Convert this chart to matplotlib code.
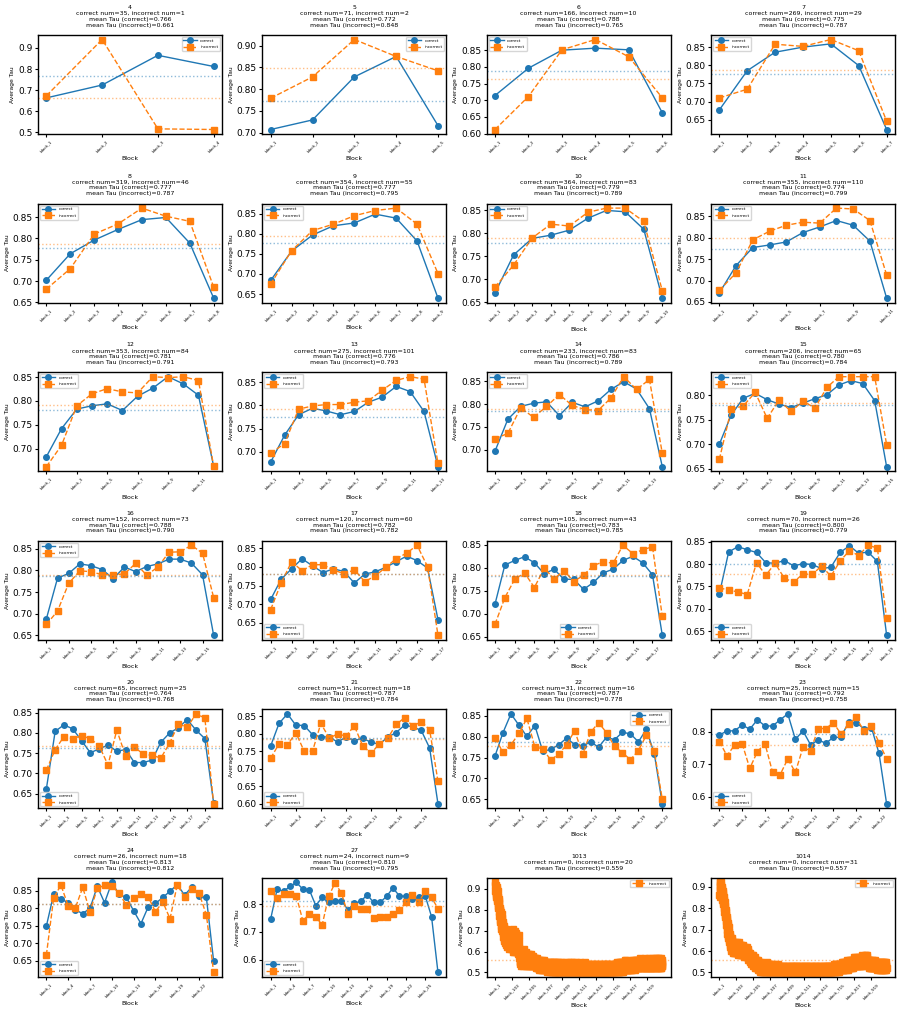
import math
import numpy as np
import matplotlib
matplotlib.use("Agg")
import matplotlib.pyplot as plt
from matplotlib.ticker import MaxNLocator

# one panel per number of blocks
panel_ids = [4, 5, 6, 7, 8, 9, 10, 11, 12, 13, 14, 15, 16, 17, 18, 19, 20, 21, 22, 23, 24, 27, 1013, 1014]
n_correct = [35, 71, 166, 269, 319, 354, 364, 355, 353, 275, 233, 206, 152, 120, 105, 70, 65, 51, 31, 25, 26, 24, 0, 0]
n_incorrect = [1, 2, 10, 29, 46, 55, 83, 110, 84, 101, 83, 65, 73, 60, 43, 26, 25, 18, 16, 15, 18, 9, 20, 31]
mean_correct = [0.766, 0.772, 0.788, 0.775, 0.777, 0.777, 0.779, 0.774, 0.781, 0.776, 0.786, 0.780,
                0.788, 0.782, 0.783, 0.800, 0.764, 0.787, 0.787, 0.792, 0.813, 0.810, None, None]
mean_incorrect = [0.661, 0.848, 0.765, 0.787, 0.787, 0.795, 0.789, 0.799, 0.791, 0.793, 0.789, 0.784,
                  0.790, 0.782, 0.785, 0.779, 0.768, 0.784, 0.778, 0.758, 0.812, 0.795, 0.559, 0.557]
legend_loc = ["upper right", "upper right"] + ["upper left"] * 11 + \
             ["lower left", "lower center", "lower left", "lower left", "lower left",
              "upper right", "lower left", "lower left", "lower left", "upper right", "upper right"]

correct_4 = [0.663, 0.724, 0.865, 0.812]
incorrect_4 = [0.673, 0.940, 0.516, 0.513]
correct_5 = [0.707, 0.729, 0.828, 0.875, 0.716]
incorrect_5 = [0.779, 0.828, 0.914, 0.875, 0.842]
correct_6 = [0.714, 0.796, 0.850, 0.856, 0.851, 0.662]
incorrect_6 = [0.612, 0.711, 0.851, 0.882, 0.830, 0.707]
correct_7 = [0.677, 0.785, 0.836, 0.850, 0.859, 0.799, 0.623]
incorrect_7 = [0.710, 0.734, 0.858, 0.852, 0.871, 0.840, 0.646]
correct_8 = [0.702, 0.764, 0.796, 0.821, 0.844, 0.849, 0.789, 0.660]
incorrect_8 = [0.681, 0.729, 0.810, 0.834, 0.871, 0.852, 0.840, 0.686]
correct_9 = [0.684, 0.757, 0.797, 0.820, 0.827, 0.849, 0.839, 0.782, 0.640]
incorrect_9 = [0.675, 0.758, 0.808, 0.824, 0.845, 0.858, 0.864, 0.824, 0.701]
correct_10 = [0.670, 0.753, 0.789, 0.796, 0.807, 0.833, 0.850, 0.847, 0.809, 0.659]
incorrect_10 = [0.683, 0.731, 0.790, 0.820, 0.816, 0.846, 0.855, 0.855, 0.826, 0.675]
correct_11 = [0.671, 0.735, 0.777, 0.783, 0.790, 0.812, 0.825, 0.840, 0.829, 0.792, 0.659]
incorrect_11 = [0.677, 0.718, 0.795, 0.815, 0.829, 0.836, 0.834, 0.869, 0.867, 0.840, 0.713]
correct_12 = [0.683, 0.742, 0.783, 0.790, 0.794, 0.780, 0.810, 0.827, 0.851, 0.836, 0.812, 0.663]
incorrect_12 = [0.662, 0.707, 0.790, 0.815, 0.826, 0.819, 0.817, 0.851, 0.849, 0.851, 0.843, 0.663]
correct_13 = [0.678, 0.736, 0.780, 0.794, 0.788, 0.780, 0.787, 0.807, 0.818, 0.841, 0.830, 0.787, 0.668]
incorrect_13 = [0.697, 0.718, 0.792, 0.799, 0.802, 0.802, 0.807, 0.810, 0.833, 0.854, 0.862, 0.857, 0.675]
correct_14 = [0.697, 0.767, 0.795, 0.802, 0.805, 0.775, 0.804, 0.794, 0.807, 0.832, 0.849, 0.833, 0.790, 0.663]
incorrect_14 = [0.724, 0.736, 0.792, 0.771, 0.795, 0.821, 0.797, 0.788, 0.786, 0.813, 0.860, 0.832, 0.854, 0.692]
correct_15 = [0.700, 0.760, 0.794, 0.804, 0.791, 0.782, 0.775, 0.784, 0.793, 0.801, 0.821, 0.830, 0.824,
              0.789, 0.654]
incorrect_15 = [0.669, 0.772, 0.778, 0.806, 0.753, 0.790, 0.767, 0.788, 0.774, 0.816, 0.838, 0.838, 0.838,
                0.838, 0.699]
correct_16 = [0.688, 0.782, 0.793, 0.815, 0.811, 0.802, 0.781, 0.808, 0.797, 0.809, 0.815, 0.826, 0.826,
              0.817, 0.790, 0.650]
incorrect_16 = [0.675, 0.706, 0.770, 0.799, 0.797, 0.790, 0.790, 0.792, 0.816, 0.789, 0.808, 0.842, 0.843,
                0.858, 0.840, 0.737]
correct_17 = [0.713, 0.767, 0.795, 0.822, 0.803, 0.785, 0.795, 0.788, 0.757, 0.781, 0.787, 0.799, 0.814,
              0.829, 0.817, 0.797, 0.659]
incorrect_17 = [0.686, 0.757, 0.814, 0.790, 0.806, 0.806, 0.792, 0.782, 0.792, 0.761, 0.776, 0.799, 0.822,
                0.837, 0.858, 0.801, 0.617]
correct_18 = [0.721, 0.806, 0.816, 0.824, 0.811, 0.787, 0.797, 0.775, 0.775, 0.753, 0.768, 0.789, 0.797,
              0.816, 0.825, 0.811, 0.785, 0.653]
incorrect_18 = [0.677, 0.735, 0.775, 0.789, 0.757, 0.799, 0.776, 0.794, 0.770, 0.784, 0.805, 0.813, 0.810,
                0.849, 0.831, 0.839, 0.846, 0.694]
correct_19 = [0.733, 0.827, 0.839, 0.832, 0.826, 0.803, 0.802, 0.808, 0.796, 0.801, 0.799, 0.790, 0.793,
              0.826, 0.841, 0.824, 0.827, 0.806, 0.641]
incorrect_19 = [0.747, 0.742, 0.738, 0.732, 0.803, 0.775, 0.802, 0.768, 0.760, 0.778, 0.777, 0.796, 0.773,
                0.807, 0.830, 0.819, 0.842, 0.836, 0.679]
correct_20 = [0.662, 0.804, 0.820, 0.810, 0.781, 0.751, 0.761, 0.770, 0.755, 0.759, 0.727, 0.727, 0.733,
              0.777, 0.800, 0.813, 0.833, 0.807, 0.786, 0.627]
incorrect_20 = [0.708, 0.759, 0.791, 0.786, 0.793, 0.786, 0.768, 0.721, 0.807, 0.743, 0.766, 0.747, 0.745,
                0.738, 0.775, 0.822, 0.814, 0.847, 0.837, 0.625]
correct_21 = [0.765, 0.829, 0.856, 0.824, 0.823, 0.797, 0.791, 0.790, 0.776, 0.790, 0.780, 0.787, 0.775,
              0.770, 0.790, 0.803, 0.824, 0.819, 0.809, 0.759, 0.600]
incorrect_21 = [0.730, 0.771, 0.767, 0.803, 0.750, 0.750, 0.829, 0.787, 0.799, 0.793, 0.822, 0.765, 0.744,
                0.771, 0.787, 0.826, 0.845, 0.821, 0.834, 0.811, 0.664]
correct_22 = [0.754, 0.810, 0.855, 0.828, 0.801, 0.827, 0.765, 0.770, 0.781, 0.797, 0.781, 0.778, 0.788,
              0.775, 0.799, 0.793, 0.811, 0.807, 0.788, 0.818, 0.759, 0.639]
incorrect_22 = [0.797, 0.763, 0.781, 0.808, 0.844, 0.776, 0.771, 0.744, 0.759, 0.781, 0.815, 0.758, 0.811,
                0.834, 0.810, 0.777, 0.762, 0.745, 0.767, 0.804, 0.765, 0.650]
correct_23 = [0.789, 0.802, 0.802, 0.820, 0.807, 0.836, 0.817, 0.817, 0.836, 0.854, 0.776, 0.802, 0.759,
              0.774, 0.764, 0.782, 0.782, 0.829, 0.827, 0.809, 0.812, 0.733, 0.578]
incorrect_23 = [0.769, 0.726, 0.758, 0.763, 0.687, 0.738, 0.763, 0.675, 0.668, 0.716, 0.675, 0.751, 0.741,
                0.809, 0.809, 0.827, 0.792, 0.822, 0.843, 0.802, 0.817, 0.766, 0.716]
correct_24 = [0.749, 0.840, 0.827, 0.816, 0.795, 0.785, 0.800, 0.863, 0.816, 0.874, 0.840, 0.831, 0.793,
              0.756, 0.804, 0.814, 0.831, 0.849, 0.868, 0.838, 0.861, 0.835, 0.831, 0.648]
incorrect_24 = [0.666, 0.829, 0.867, 0.807, 0.802, 0.860, 0.790, 0.857, 0.866, 0.865, 0.843, 0.809, 0.829,
                0.841, 0.833, 0.790, 0.819, 0.770, 0.868, 0.831, 0.856, 0.843, 0.781, 0.616]
correct_27 = [0.747, 0.854, 0.846, 0.864, 0.878, 0.854, 0.852, 0.795, 0.824, 0.806, 0.813, 0.812, 0.780,
              0.804, 0.810, 0.834, 0.806, 0.806, 0.828, 0.858, 0.830, 0.828, 0.818, 0.825, 0.831, 0.755, 0.554]
incorrect_27 = [0.846, 0.822, 0.837, 0.836, 0.828, 0.740, 0.764, 0.755, 0.725, 0.828, 0.876, 0.840, 0.764,
                0.792, 0.782, 0.783, 0.749, 0.755, 0.755, 0.764, 0.778, 0.807, 0.834, 0.806, 0.848, 0.824, 0.784]

# long questions: incorrect only, values in hundredths
incorrect_1013 = [
    92, 89, 93, 90, 87, 92, 88, 91, 86, 90, 89, 84, 88, 91, 85, 87, 83, 89, 86, 82,
    86, 81, 85, 79, 84, 82, 77, 83, 80, 75, 81, 78, 74, 80, 76, 79, 72, 77, 75, 71,
    78, 73, 76, 70, 75, 72, 69, 74, 71, 67, 73, 70, 68, 72, 66, 71, 69, 65, 70, 67,
    71, 66, 69, 64, 70, 67, 63, 69, 65, 71, 66, 64, 68, 62, 67, 70, 65, 63, 69, 66,
    64, 68, 62, 67, 70, 63, 66, 61, 69, 65, 62, 68, 64, 70, 61, 66, 63, 69, 62, 67,
    65, 61, 68, 63, 70, 62, 66, 60, 67, 64, 71, 61, 65, 68, 60, 66, 63, 69, 62, 65,
    68, 61, 64, 70, 62, 66, 60, 67, 63, 69, 61, 65, 68, 60, 64, 67, 62, 66, 59, 64,
    66, 61, 63, 68, 60, 65, 62, 59, 57, 55, 60, 54, 58, 61, 55, 57, 53, 59, 56, 60,
    57, 54, 58, 56, 60, 55, 57, 53, 58, 56, 59, 54, 57, 55, 61, 56, 58, 54, 57, 55,
    56, 59, 54, 57, 55, 58, 53, 56, 60, 55, 57, 54, 58, 56, 53, 57, 55, 59, 54, 56,
    55, 58, 53, 57, 54, 56, 59, 53, 55, 57, 54, 58, 55, 53, 56, 54, 57, 55, 59, 54,
    56, 53, 55, 58, 54, 56, 53, 57, 55, 54, 58, 53, 56, 54, 57, 55, 53, 56, 54, 57,
    54, 56, 53, 55, 57, 54, 52, 56, 54, 53, 55, 57, 52, 54, 56, 53, 55, 52, 54, 56,
    53, 55, 52, 54, 56, 53, 51, 55, 53, 54, 52, 56, 53, 55, 52, 54, 51, 53, 55, 52,
    54, 52, 55, 53, 51, 54, 56, 52, 53, 55, 51, 54, 52, 53, 55, 52, 54, 51, 53, 56,
    52, 54, 51, 53, 55, 52, 53, 51, 54, 52, 55, 53, 51, 54, 52, 53, 50, 54, 52, 55,
    53, 51, 54, 52, 50, 53, 55, 52, 51, 54, 52, 53, 51, 55, 52, 50, 53, 52, 54, 51,
    52, 55, 50, 53, 51, 54, 50, 52, 55, 51, 53, 50, 54, 52, 51, 55, 50, 53, 52, 54,
    50, 53, 51, 55, 52, 50, 54, 51, 53, 50, 52, 55, 51, 53, 50, 54, 52, 51, 53, 50,
    54, 51, 52, 50, 55, 52, 50, 53, 51, 54, 50, 52, 53, 51, 55, 50, 52, 54, 51, 53,
    51, 50, 54, 52, 51, 53, 50, 55, 52, 51, 53, 50, 52, 54, 50, 51, 53, 52, 50, 54,
    52, 54, 50, 51, 53, 50, 52, 55, 51, 50, 54, 52, 51, 53, 50, 52, 54, 51, 50, 53,
    50, 52, 53, 51, 54, 50, 52, 51, 55, 50, 53, 51, 52, 50, 54, 51, 53, 50, 52, 55,
    53, 51, 50, 52, 54, 51, 50, 53, 52, 50, 55, 51, 53, 50, 52, 54, 50, 51, 53, 52,
    51, 53, 52, 50, 51, 54, 52, 50, 53, 51, 50, 52, 55, 51, 50, 53, 52, 54, 50, 51,
    50, 52, 54, 51, 53, 50, 51, 52, 50, 54, 52, 51, 50, 53, 51, 55, 50, 52, 51, 53,
    52, 50, 51, 53, 50, 52, 54, 51, 50, 52, 53, 50, 51, 54, 52, 50, 53, 51, 50, 52,
    53, 51, 50, 52, 55, 50, 51, 53, 52, 50, 51, 54, 50, 52, 51, 53, 50, 52, 54, 51,
    50, 52, 53, 50, 51, 54, 52, 50, 51, 53, 50, 52, 51, 50, 54, 52, 51, 53, 50, 52,
    51, 53, 50, 52, 51, 50, 53, 52, 54, 50, 51, 52, 50, 53, 51, 50, 52, 54, 51, 50,
    53, 50, 52, 51, 54, 50, 51, 53, 50, 52, 51, 50, 54, 52, 50, 51, 53, 50, 52, 51,
    50, 52, 51, 53, 50, 51, 54, 50, 52, 51, 53, 50, 51, 52, 50, 54, 51, 50, 53, 52,
    51, 50, 53, 52, 50, 51, 52, 54, 50, 51, 53, 50, 52, 51, 54, 50, 51, 52, 50, 53,
    52, 51, 50, 54, 51, 50, 52, 53, 50, 51, 52, 50, 54, 51, 50, 53, 52, 50, 51, 54,
    50, 53, 51, 52, 50, 54, 51, 50, 52, 53, 51, 50, 52, 51, 53, 50, 54, 51, 52, 50,
    52, 51, 53, 50, 52, 51, 54, 50, 51, 53, 52, 50, 51, 54, 52, 51, 50, 53, 51, 52,
    51, 53, 50, 52, 54, 51, 52, 50, 53, 51, 54, 52, 50, 51, 53, 52, 55, 51, 50, 53,
    53, 51, 54, 52, 50, 53, 51, 55, 52, 51, 54, 50, 52, 53, 51, 55, 52, 50, 53, 54,
    52, 54, 51, 53, 55, 52, 50, 54, 53, 51, 55, 52, 54, 51, 53, 50, 55, 52, 54, 51,
    54, 52, 55, 51, 53, 54, 52, 56, 51, 53, 55, 52, 54, 51, 56, 53, 52, 55, 51, 54,
    52, 54, 51, 53, 55, 52, 53, 51, 54, 52, 55, 53, 51, 54, 52, 53, 55, 52, 54, 51,
    53, 55, 52, 54, 51, 53, 56, 52, 54, 53, 51, 55, 53, 52, 54, 56, 52, 53, 55, 52,
    54, 52, 55, 53, 56, 52, 54, 53, 51, 55, 53, 54, 52, 56, 53, 55, 52, 54, 56, 53,
    55, 53, 52, 54, 56, 53, 55, 52, 54, 53, 56, 54, 52, 55, 53, 54, 57, 53, 55, 52,
    54, 56, 53, 55, 52, 54, 56, 53, 55, 54, 52, 56, 53, 55, 54, 52, 55, 53, 56, 54,
    53, 55, 52, 54, 56, 53, 55, 52, 54, 57, 53, 55, 52, 54, 53, 56, 52, 55, 53, 54,
    52, 55, 53, 56, 54, 52, 55, 53, 54, 56, 52, 54, 53, 55, 57, 53, 54, 52, 55, 53,
    54, 52, 56, 53, 55, 54, 52, 55, 53, 57, 54, 52, 55, 53, 56, 54, 52, 55, 53, 54,
    56, 53, 55, 52, 54, 57, 53, 55, 54, 52, 56, 53, 55, 54, 52, 55, 57, 53, 54, 52,
    55, 53, 56, 54, 52, 55, 53, 57, 54, 52, 56, 53, 55, 54, 53, 57, 52, 55, 54, 53,
    56, 54, 52, 55, 53, 57, 54, 52, 55, 53, 54, 56, 53,
]
incorrect_1014 = [
    86, 91, 92, 88, 90, 85, 92, 89, 91, 87, 90, 88, 92, 86, 89, 84, 90, 87, 85, 88,
    87, 84, 88, 82, 86, 83, 80, 85, 81, 84, 78, 82, 79, 83, 77, 80, 76, 81, 75, 78,
    79, 74, 77, 72, 76, 70, 74, 71, 75, 68, 72, 69, 73, 67, 70, 66, 71, 68, 65, 69,
    67, 64, 68, 63, 66, 65, 62, 67, 61, 65, 63, 66, 60, 64, 62, 65, 61, 63, 66, 60,
    62, 60, 63, 61, 64, 59, 62, 60, 63, 61, 59, 62, 64, 60, 61, 63, 59, 62, 60, 63,
    61, 63, 59, 62, 60, 64, 61, 59, 62, 60, 63, 61, 58, 62, 60, 63, 59, 61, 64, 60,
    62, 59, 61, 63, 60, 58, 62, 61, 59, 63, 60, 62, 58, 61, 63, 59, 60, 62, 58, 61,
    60, 62, 58, 61, 59, 63, 60, 58, 61, 59, 62, 60, 57, 61, 59, 62, 58, 60, 59, 61,
    59, 61, 57, 60, 58, 62, 59, 57, 60, 58, 61, 59, 56, 60, 58, 57, 61, 59, 56, 58,
    57, 59, 56, 58, 55, 57, 59, 56, 58, 55, 57, 56, 54, 58, 56, 55, 57, 54, 56, 58,
    55, 57, 54, 56, 58, 55, 53, 56, 54, 57, 55, 53, 56, 54, 57, 55, 52, 56, 54, 55,
    53, 56, 54, 52, 55, 53, 56, 54, 52, 55, 53, 54, 51, 55, 53, 52, 54, 56, 52, 53,
    55, 52, 54, 51, 53, 55, 52, 50, 54, 52, 53, 51, 55, 52, 50, 53, 54, 51, 52, 54,
    52, 50, 53, 51, 54, 52, 50, 53, 51, 52, 54, 50, 52, 53, 51, 50, 53, 52, 54, 51,
    53, 51, 50, 52, 54, 51, 53, 50, 52, 51, 53, 55, 51, 52, 50, 53, 51, 52, 54, 50,
    52, 51, 53, 50, 52, 54, 51, 50, 53, 52, 51, 53, 50, 52, 51, 54, 52, 50, 51, 53,
    51, 53, 50, 52, 51, 53, 52, 50, 51, 54, 52, 51, 50, 53, 51, 52, 50, 53, 52, 51,
    50, 52, 53, 51, 52, 50, 51, 53, 52, 50, 52, 51, 53, 50, 52, 51, 54, 52, 50, 51,
    52, 51, 50, 53, 51, 52, 50, 52, 51, 53, 50, 51, 52, 50, 53, 51, 52, 50, 51, 52,
    51, 53, 50, 52, 51, 50, 52, 51, 53, 50, 51, 52, 50, 51, 53, 52, 50, 51, 52, 50,
    52, 51, 50, 52, 51, 53, 50, 51, 52, 50, 51, 53, 51, 50, 52, 51, 50, 52, 53, 51,
    50, 52, 51, 50, 53, 51, 52, 50, 51, 52, 50, 51, 53, 52, 50, 51, 52, 50, 51, 53,
    51, 50, 52, 51, 53, 50, 51, 52, 50, 51, 53, 51, 50, 52, 51, 50, 52, 51, 53, 50,
    52, 51, 50, 52, 51, 50, 53, 51, 52, 50, 51, 52, 50, 53, 51, 50, 52, 51, 50, 52,
    51, 50, 52, 53, 50, 51, 52, 50, 51, 53, 51, 50, 52, 51, 50, 52, 53, 51, 50, 51,
    52, 50, 51, 53, 51, 50, 52, 51, 50, 52, 51, 53, 50, 51, 52, 50, 51, 53, 52, 50,
    51, 52, 50, 51, 53, 51, 50, 52, 51, 50, 52, 53, 51, 50, 51, 52, 50, 51, 53, 51,
    50, 52, 51, 50, 52, 51, 53, 50, 51, 52, 50, 51, 52, 50, 53, 51, 50, 52, 51, 50,
    52, 51, 50, 53, 51, 50, 52, 51, 50, 52, 51, 53, 50, 51, 52, 50, 51, 52, 50, 53,
    51, 50, 52, 51, 50, 52, 53, 51, 50, 51, 52, 50, 51, 53, 50, 52, 51, 50, 52, 51,
    50, 51, 53, 52, 50, 51, 52, 50, 51, 53, 51, 50, 52, 51, 50, 52, 51, 53, 50, 51,
    52, 50, 51, 52, 50, 53, 51, 50, 52, 51, 50, 52, 53, 51, 50, 51, 52, 50, 51, 52,
    50, 52, 51, 53, 50, 51, 52, 50, 53, 51, 52, 50, 51, 52, 53, 50, 51, 52, 50, 51,
    53, 51, 50, 52, 51, 53, 50, 52, 51, 50, 52, 51, 53, 50, 51, 52, 50, 53, 51, 52,
    50, 52, 51, 53, 52, 50, 51, 53, 52, 51, 50, 52, 54, 51, 52, 50, 53, 51, 52, 54,
    51, 53, 52, 50, 52, 54, 51, 53, 52, 50, 53, 51, 52, 54, 51, 53, 52, 50, 52, 51,
    53, 51, 52, 54, 51, 53, 50, 52, 54, 51, 53, 52, 51, 54, 52, 53, 51, 54, 52, 53,
    51, 54, 52, 53, 55, 52, 51, 54, 53, 52, 55, 51, 53, 54, 52, 55, 53, 51, 54, 52,
    54, 52, 55, 53, 51, 54, 52, 55, 53, 54, 52, 56, 53, 54, 52, 55, 53, 51, 54, 53,
    55, 53, 52, 54, 56, 53, 54, 52, 55, 53, 56, 54, 52, 55, 53, 54, 56, 52, 54, 53,
    55, 53, 56, 54, 52, 55, 54, 56, 53, 55, 52, 54, 56, 53, 55, 54, 57, 53, 55, 54,
    56, 54, 53, 55, 57, 54, 56, 53, 55, 54, 56, 53, 55, 57, 54, 56, 53, 55, 54, 56,
    54, 56, 53, 55, 57, 54, 55, 53, 56, 54, 57, 55, 53, 56, 54, 55, 57, 54, 56, 53,
    55, 57, 54, 56, 53, 55, 58, 54, 56, 55, 57, 54, 56, 53, 55, 57, 54, 56, 55, 57,
    54, 56, 58, 55, 57, 54, 56, 55, 58, 56, 54, 57, 55, 56, 58, 54, 57, 55, 56, 54,
    56, 54, 55, 53, 56, 54, 52, 55, 53, 56, 54, 52, 55, 53, 54, 56, 52, 55, 53, 54,
    52, 55, 53, 54, 56, 52, 54, 53, 55, 52, 54, 56, 53, 55, 52, 54, 53, 55, 52, 54,
    53, 55, 52, 54, 56, 53, 52, 55, 53, 54, 52, 55, 53, 51, 54, 52, 55, 53, 54, 52,
    54, 52, 55, 53, 51, 54, 52, 55, 53, 52, 54, 51, 53, 55, 52, 54, 53, 51, 54, 52,
    53, 55, 52, 54, 51, 53, 55, 52, 54, 53, 51, 54, 52, 55, 53, 52, 54, 51, 53, 55,
    52, 54, 53, 51, 55, 52, 54, 53, 52, 55, 53, 51, 54, 52,
]

correct_series = [correct_4, correct_5, correct_6, correct_7, correct_8, correct_9, correct_10,
                  correct_11, correct_12, correct_13, correct_14, correct_15, correct_16, correct_17,
                  correct_18, correct_19, correct_20, correct_21, correct_22, correct_23, correct_24,
                  correct_27, None, None]
incorrect_series = [incorrect_4, incorrect_5, incorrect_6, incorrect_7, incorrect_8, incorrect_9,
                    incorrect_10, incorrect_11, incorrect_12, incorrect_13, incorrect_14, incorrect_15,
                    incorrect_16, incorrect_17, incorrect_18, incorrect_19, incorrect_20, incorrect_21,
                    incorrect_22, incorrect_23, incorrect_24, incorrect_27,
                    list(np.array(incorrect_1013) / 100), list(np.array(incorrect_1014) / 100)]

plt.rcParams['axes.linewidth'] = 1.0

fig, axes = plt.subplots(6, 4, figsize=(9.01, 10.17), dpi=100)
fig.subplots_adjust(left=38 / 901, right=895 / 901, top=1 - 35 / 1017, bottom=1 - 977 / 1017,
                    wspace=0.219, hspace=0.703)

for ax, pid, nc, ni, mc, mi, cor, inc, loc in zip(axes.flat, panel_ids, n_correct, n_incorrect,
                                                   mean_correct, mean_incorrect, correct_series,
                                                   incorrect_series, legend_loc):
    n = len(inc)
    x = np.arange(n)
    if cor is not None:
        ax.plot(x, cor, 'o-', color='C0', label='correct', markersize=4, linewidth=1)
    ax.plot(x, inc, 's--', color='C1', label='incorrect', markersize=4, linewidth=1)
    if mc is not None:
        ax.axhline(mc, color='C0', linestyle=':', linewidth=1, alpha=0.5)
    ax.axhline(mi, color='C1', linestyle=':', linewidth=1, alpha=0.5)

    lines = [str(pid), f"correct num={nc}, incorrect num={ni}"]
    if mc is not None:
        lines.append(f"mean Tau (correct)={mc:.3f}")
    lines.append(f"mean Tau (incorrect)={mi:.3f}")
    ax.set_title("\n".join(lines), fontsize=4.5)

    step = math.ceil(n / 10)
    ticks = x[::step]
    ax.set_xticks(ticks)
    ax.set_xticklabels([f"block_{t + 1}" for t in ticks], rotation=45, fontsize=3)
    ax.yaxis.set_major_locator(MaxNLocator(nbins=6, steps=[1, 2, 2.5, 5, 10]))
    ax.tick_params(axis='both', length=2.5, pad=1.5)
    ax.tick_params(axis='y', labelsize=6.5)
    ax.set_xlabel("Block", fontsize=4.5, labelpad=2)
    ax.set_ylabel("Average Tau", fontsize=4.3, labelpad=2)
    ax.legend(loc=loc, fontsize=3, handlelength=3.2, labelspacing=0.6)

fig.savefig("out.png", dpi=100)
